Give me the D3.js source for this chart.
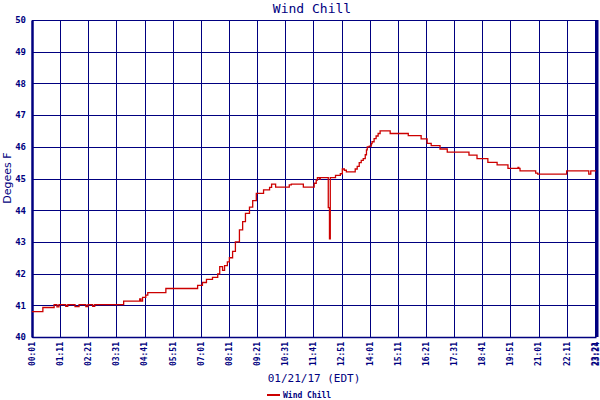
<!DOCTYPE html>
<html><head><meta charset="utf-8">
<script src="https://cdn.jsdelivr.net/npm/d3@7"></script>
<style>body{margin:0;background:#fff}svg{display:block}</style>
</head><body>
<svg id="c" width="600" height="400"></svg>
<script>
const title = "Wind Chill";
const yTitle = "Degees F";
const xTitle = "01/21/17 (EDT)";
const seriesName = "Wind Chill";
const times = ["00:01","00:28","00:56","01:03","01:08","01:25","01:30","01:48","01:58","02:15","02:20","02:32","02:37","03:49","04:29","04:32","04:36","04:44","04:49","05:34","06:53","07:05","07:15","07:30","07:43","07:48","07:55","08:00","08:07","08:12","08:20","08:27","08:37","08:45","08:52","09:02","09:10","09:19","09:37","09:52","09:57","10:07","10:41","10:46","11:16","11:43","11:48","11:51","11:56","11:58","12:18","12:21","12:23","12:36","12:48","12:53","12:58","13:03","13:25","13:30","13:35","13:40","13:45","13:50","13:53","13:55","14:00","14:05","14:07","14:12","14:17","14:22","14:27","14:52","15:37","16:09","16:24","16:34","16:56","17:14","18:08","18:28","18:55","19:18","19:45","20:10","20:12","20:15","20:54","20:59","22:11","23:06","23:11","23:24"];
const values = [40.80,40.93,41.02,40.95,41.02,40.97,41.02,40.96,41.02,40.96,41.02,40.97,41.02,41.13,41.20,41.13,41.25,41.32,41.40,41.53,41.63,41.72,41.82,41.88,41.99,42.22,42.10,42.25,42.37,42.50,42.70,43.00,43.38,43.64,43.90,44.10,44.30,44.53,44.64,44.72,44.82,44.73,44.80,44.82,44.73,44.85,44.95,45.03,44.98,45.03,44.08,43.10,45.03,45.10,45.15,45.30,45.26,45.21,45.30,45.38,45.50,45.57,45.63,45.75,45.90,46.00,46.02,46.10,46.16,46.26,46.34,46.42,46.50,46.42,46.35,46.25,46.11,46.04,45.93,45.83,45.74,45.63,45.51,45.43,45.32,45.35,45.32,45.24,45.17,45.14,45.24,45.14,45.24,45.24];
const xTickLabels = ["00:01","01:11","02:21","03:31","04:41","05:51","07:01","08:11","09:21","10:31","11:41","12:51","14:01","15:11","16:21","17:31","18:41","19:51","21:01","22:11","23:21","23:24"];
const yTicks = [40,41,42,43,44,45,46,47,48,49,50];

const navy = "#000080", red = "#cc0000";
const toMin = s => { const [h,m] = s.split(":").map(Number); return h*60+m; };
const data = times.map((t,i)=>({t:toMin(t), v:values[i]}));

const L=32, R=596, T=20, B=337;
const svg = d3.select("#c");
const x = d3.scaleLinear().domain([toMin("00:01"), toMin("23:24")]).range([L,R]);
const y = d3.scaleLinear().domain([40,50]).range([B,T]);

// grid
svg.append("g").selectAll("line").data(xTickLabels).join("line")
  .attr("x1",d=>Math.round(x(toMin(d)))+0.5).attr("x2",d=>Math.round(x(toMin(d)))+0.5)
  .attr("y1",T).attr("y2",B).attr("stroke",navy).attr("stroke-width",1);
svg.append("g").selectAll("line").data(yTicks).join("line")
  .attr("x1",L).attr("x2",R).attr("y1",d=>Math.round(y(d))+0.5).attr("y2",d=>Math.round(y(d))+0.5)
  .attr("stroke",navy).attr("stroke-width",1);

// axes
const yAxis = d3.axisLeft(y).tickValues(yTicks).tickSize(0).tickPadding(6).tickFormat(d3.format("d"));
const gy = svg.append("g").attr("transform",`translate(${L},0)`).call(yAxis);
gy.select(".domain").attr("stroke",navy).attr("stroke-width",2.5);
gy.selectAll("text").attr("fill",navy).attr("font-family","DejaVu Sans Mono").attr("font-weight","bold").attr("font-size",9);

const xAxis = d3.axisBottom(x).tickValues(xTickLabels.map(toMin)).tickSize(0).tickPadding(4)
  .tickFormat((d,i)=>xTickLabels[i]);
const gx = svg.append("g").attr("transform",`translate(0,${B})`).call(xAxis);
gx.select(".domain").attr("stroke",navy).attr("stroke-width",1.5);
gx.selectAll("text").attr("fill",navy).attr("font-family","DejaVu Sans Mono").attr("font-weight","bold").attr("font-size",8)
  .attr("transform","rotate(-90)").attr("text-anchor","end").attr("x",-5).attr("y",0).attr("dy","0.3em");

// right border
svg.append("line").attr("x1",R+1.5).attr("x2",R+1.5).attr("y1",T).attr("y2",B).attr("stroke",navy).attr("stroke-width",2);

// series
const line = d3.line().x(d=>x(d.t)).y(d=>y(d.v)).curve(d3.curveStepAfter);
svg.append("path").datum(data).attr("d",line).attr("fill","none").attr("stroke",red).attr("stroke-width",1.3);

// titles
svg.append("text").attr("x",312).attr("y",13).attr("text-anchor","middle").attr("fill",navy)
  .attr("font-family","DejaVu Sans Mono").attr("font-size",13).text(title);
svg.append("text").attr("transform","translate(11,178) rotate(-90)").attr("text-anchor","middle").attr("fill",navy)
  .attr("font-family","DejaVu Sans").attr("font-size",11).text(yTitle);
svg.append("text").attr("x",314).attr("y",382).attr("text-anchor","middle").attr("fill",navy)
  .attr("font-family","DejaVu Sans Mono").attr("font-size",11).text(xTitle);

// legend
svg.append("line").attr("x1",267).attr("x2",280).attr("y1",395).attr("y2",395).attr("stroke",red).attr("stroke-width",2);
svg.append("text").attr("x",283).attr("y",398).attr("fill",navy).attr("font-family","DejaVu Sans Mono")
  .attr("font-weight","bold").attr("font-size",8).text(seriesName);
</script>
</body></html>
